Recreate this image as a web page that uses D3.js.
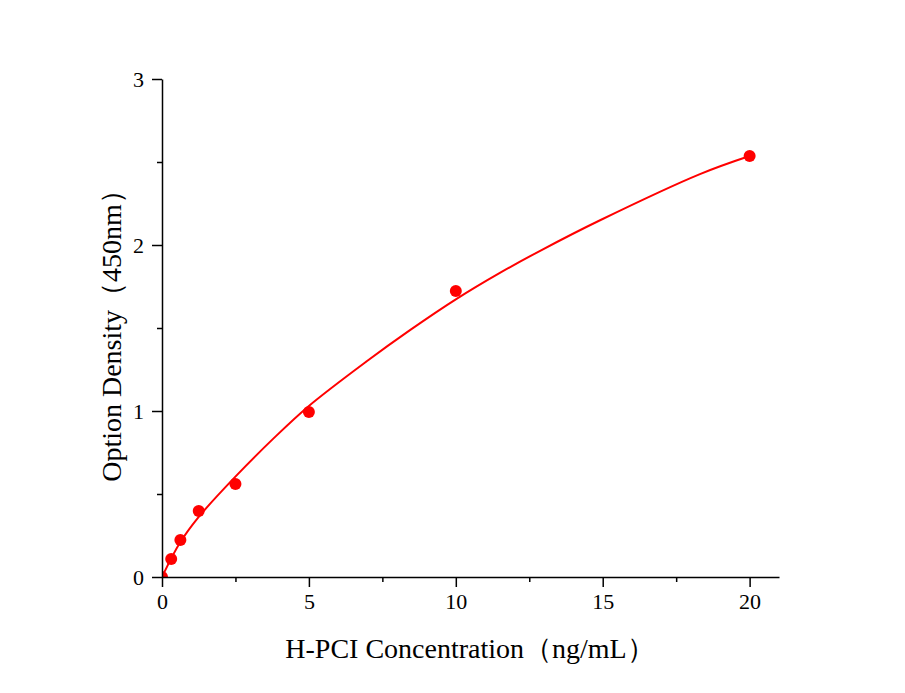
<!DOCTYPE html>
<html>
<head>
<meta charset="utf-8">
<script src="https://cdn.jsdelivr.net/npm/d3@7"></script>
<style>
  body { margin: 0; background: #fff; }
  text { font-family: "Liberation Serif", "Times New Roman", serif; fill: #000; }
  .axis path, .axis line { stroke: #000; stroke-width: 1.5; }
  .axis text { font-size: 22px; font-family: "Liberation Serif", serif; }
</style>
</head>
<body>
<div id="chart"></div>
<script>
// measured standards
var concentration = [0, 0.3125, 0.625, 1.25, 2.5, 5, 10, 20];
var density = [0, 0.108, 0.223, 0.398, 0.56, 0.994, 1.723, 2.536];

// fitted curve
var curveX = [0, 0.61, 1.23, 2.49, 3.78, 4.97, 6.98, 8.44, 10.04, 11.5, 12.87, 14.91, 18.31, 20];
var curveY = [0, 0.206, 0.358, 0.603, 0.832, 1.026, 1.301, 1.487, 1.677, 1.832, 1.965, 2.149, 2.427, 2.536];

var xTicks = [0, 5, 10, 15, 20];
var xMinor = [2.5, 7.5, 12.5, 17.5];
var yTicks = [0, 1, 2, 3];
var yMinor = [0.5, 1.5, 2.5];

function init() {
    var w = 905;
    var h = 693;
    var left = 162, right = 779, top = 79, bottom = 577;

    var xScale = d3.scaleLinear().domain([0, 21]).range([left, right]);
    var yScale = d3.scaleLinear().domain([0, 3]).range([bottom, top]);

    var svg = d3.select("#chart").append("svg")
        .attr("width", w)
        .attr("height", h);

    // clip marks to the plot area
    svg.append("clipPath")
        .attr("id", "plot")
        .append("rect")
        .attr("x", left)
        .attr("y", top)
        .attr("width", right - left)
        .attr("height", bottom - top);

    // fitted curve
    var line = d3.line()
        .x(function(d, i) { return xScale(curveX[i]); })
        .y(function(d, i) { return yScale(curveY[i]); })
        .curve(d3.curveCatmullRom);

    svg.append("path")
        .datum(curveX)
        .attr("clip-path", "url(#plot)")
        .attr("d", line)
        .attr("fill", "none")
        .attr("stroke", "#ff0000")
        .attr("stroke-width", 2);

    // data points
    svg.append("g")
        .attr("clip-path", "url(#plot)")
        .selectAll("circle")
        .data(concentration)
        .enter()
        .append("circle")
        .attr("cx", function(d) { return xScale(d); })
        .attr("cy", function(d, i) { return yScale(density[i]); })
        .attr("r", 6)
        .attr("fill", "#ff0000");

    // minor ticks
    svg.append("g")
        .attr("class", "axis")
        .attr("transform", "translate(0," + bottom + ")")
        .call(d3.axisBottom(xScale).tickValues(xMinor).tickSize(5).tickFormat(""))
        .select(".domain").remove();
    svg.append("g")
        .attr("class", "axis")
        .attr("transform", "translate(" + left + ",0)")
        .call(d3.axisLeft(yScale).tickValues(yMinor).tickSize(5).tickFormat(""))
        .select(".domain").remove();

    // major ticks + axis lines
    svg.append("g")
        .attr("class", "axis")
        .attr("transform", "translate(0," + bottom + ")")
        .call(d3.axisBottom(xScale).tickValues(xTicks).tickSize(10).tickSizeOuter(0)
            .tickPadding(6).tickFormat(d3.format("d")));
    svg.append("g")
        .attr("class", "axis")
        .attr("transform", "translate(" + left + ",0)")
        .call(d3.axisLeft(yScale).tickValues(yTicks).tickSize(10).tickSizeOuter(0)
            .tickPadding(8).tickFormat(d3.format("d")));

    // axis titles
    svg.append("text")
        .attr("x", 470)
        .attr("y", 658)
        .attr("text-anchor", "middle")
        .style("font-size", "28px")
        .text("H-PCI Concentration（ng/mL）");

    svg.append("text")
        .attr("transform", "translate(121,329) rotate(-90)")
        .attr("text-anchor", "middle")
        .style("font-size", "28px")
        .text("Option Density（450nm）");
}

window.onload = init;
</script>
</body>
</html>
